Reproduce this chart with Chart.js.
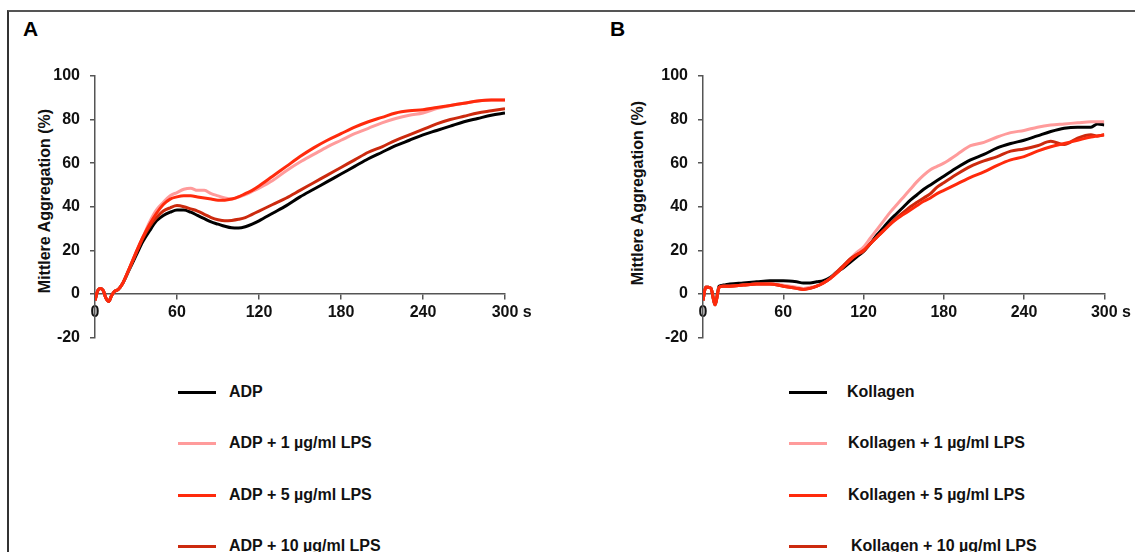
<!DOCTYPE html>
<html><head><meta charset="utf-8">
<script src="https://cdn.jsdelivr.net/npm/chart.js@4.4.0/dist/chart.umd.min.js"></script>
<style>
html,body{margin:0;padding:0;background:#fff;}
body{width:1135px;height:552px;position:relative;overflow:hidden;font-family:"Liberation Sans",Arial,sans-serif;}
#frame{position:absolute;left:7px;top:10px;width:1140px;height:560px;border-top:2px solid #555;border-left:2px solid #333;}
.panel{position:absolute;font-weight:bold;font-size:21px;color:#000;line-height:21px;}
.ytitle{position:absolute;font-weight:bold;font-size:16px;white-space:nowrap;transform:translate(-50%,-50%) rotate(-90deg);line-height:19px;color:#111;}
.legline{position:absolute;width:38px;height:3px;}
.legtext{position:absolute;height:20px;line-height:20px;font-weight:bold;font-size:16px;white-space:nowrap;color:#111;}
canvas{position:absolute;}
</style>
</head>
<body>
<div id="frame"></div>
<div class="panel" style="left:23px;top:18px;">A</div>
<div class="panel" style="left:610px;top:18px;">B</div>
<div class="ytitle" style="left:44px;top:201px;">Mittlere Aggregation (%)</div>
<div class="ytitle" style="left:637px;top:193px;">Mittlere Aggregation (%)</div>
<canvas id="cA" width="560" height="357" style="left:0;top:0;"></canvas>
<canvas id="cB" width="575" height="357" style="left:560px;top:0;"></canvas>
<div id="legA"></div>
<div id="legB"></div>
<script>
// ---- data ----
const timesA = [0,2,4,6,8,10,12,14,17,20,25,30,35,40,45,50,55,60,65,70,75,80,85,90,95,100,105,110,115,120,130,140,150,160,170,180,190,200,210,220,230,240,250,260,270,280,290,300];
const adp    = [-3,1.5,2.5,1.5,-2,-3.5,-1,1,2,4.5,11,17.5,24,29,33.5,36,37.5,38.5,38.5,37.5,36,34.5,33,32,31,30.3,30.2,30.8,32,33.5,37,40.5,44.5,48,51.5,55,58.5,62,65,68,70.5,73,75,77,79,80.5,82,83];
const adp1   = [-3,1.5,2.5,1.5,-2,-3.5,-1,1,2,4.5,11.5,19,26,33,38.5,42,45,46.5,48,48.5,47.5,47.5,46,45,44,43.5,44.5,45.5,47,48.5,52,56.5,60.5,64,67.5,70.5,73.5,76,78.5,80.5,82,83,85,86.5,87.5,88.5,89,89];
const adp5   = [-3,1.5,2.5,1.5,-2,-3.5,-1,1,2,4.5,11.5,19,26,32,37,41,43.5,44.5,45,45,44.5,44,43.5,43,43,43.5,44.5,46,47.5,49.5,54,58.5,63,67,70.5,73.5,76.5,79,81,83,84,84.5,85.5,86.5,87.5,88.5,89,89];
const adp10  = [-3,1.5,2.5,1.5,-2,-3.5,-1,1,2,4.5,11.5,18.5,25.5,31,35,38,39.5,40.5,40,39,38,36.5,35,34,33.5,33.7,34.2,35,36.5,38,41,44,47.5,51,54.5,58,61.5,65,67.5,70.5,73,75.5,78,80,81.5,83,84,85];

const timesB = [0,2,4,6,8,9,10,12,15,20,30,40,50,60,70,75,80,85,90,95,100,105,110,115,120,125,130,135,140,145,150,155,160,165,170,175,180,190,200,210,220,230,240,250,260,270,280,290,295,300];
const kol    = [-3,3,3,2.5,-3,-5,-3,3.5,4,4.5,5,5.5,6,6,5.5,5,5,5.5,6,7.5,10,12,14.5,17,19.5,23,27,30.5,34,37,40,43,45.5,48,50,52,54,58,61.5,64,67,69,70.5,72.5,74.5,76,76.5,76.5,78,77.5];
const kol1   = [-3,3,3,2.5,-3,-5,-3,3,3.5,3.5,4,4.5,4.5,4,3,2.5,3,3.5,5,7,10,13,16,19,21.5,25.5,29.5,33.5,37.5,41,44.5,48,51.5,54.5,57,58.5,60,64,68,69.5,72,74,75,76.5,77.5,78,78.5,79,79,79];
const kol5   = [-3,3,3,2.5,-3,-5,-3,3,3.5,3.5,4,4.5,4.5,3.5,2.5,2,2.5,3.5,5,7,9.5,12.5,15.5,18,20,23,26,29,32,34.5,36.5,38.5,40.5,42.5,44,46,47.5,50.5,53.5,56,59,61.5,63,65.5,67.5,69,70.5,72,72.5,73];
const kol10  = [-3,3,3,2.5,-3,-5,-3,3,3.5,3.5,4,4.5,4.5,3.5,2.5,2,2.5,3.5,5,7,10,13,16,18,19.5,23,26,29,32,35,37.5,40,42,44,46,49,51,55,58.5,61,63,65.5,66.5,68,70,68.5,71.5,73,72.5,73];

const xTicks = [0,60,120,180,240,300];
const yTicks = [-20,0,20,40,60,80,100];
const labelsA = ['ADP','ADP + 1 µg/ml LPS','ADP + 5 µg/ml LPS','ADP + 10 µg/ml LPS'];
const labelsB = ['Kollagen','Kollagen + 1 µg/ml LPS','Kollagen + 5 µg/ml LPS','Kollagen + 10 µg/ml LPS'];
const colors = ['#000000','#ff9b9b','#ff2a0c','#cc2a0e'];
const drawOrder = [3,2,0,1];

// ---- charts ----
Chart.defaults.font.family = '"Liberation Sans", Arial, sans-serif';
const tickFont = {size:16, weight:'bold'};
const axisColor = '#555';

function makeChart(id, times, series, labels, yWidth, pad){
  return new Chart(document.getElementById(id), {
    type:'line',
    data:{datasets: series.map((s,i)=>({
      label: labels[i],
      data: times.map((t,j)=>({x:t, y:s[j]})),
      borderColor: colors[i], borderWidth: 3, pointRadius: 0,
      cubicInterpolationMode:'monotone', fill:false, order: drawOrder[i]
    }))},
    options:{
      responsive:false, animation:false, devicePixelRatio:1,
      layout:{padding:pad},
      plugins:{legend:{display:false}, tooltip:{enabled:false}},
      scales:{
        x:{type:'linear', position:{y:0}, min:0, max:300,
           afterBuildTicks: s=>{ s.ticks = xTicks.map(v=>({value:v})); },
           ticks:{font:tickFont, color:'#111', padding:4, maxRotation:0, autoSkip:false,
                  callback: v => v===300 ? '   300 s' : String(v)},
           grid:{drawOnChartArea:false, color:axisColor, lineWidth:1.5, tickLength:5},
           border:{color:axisColor, width:1.5}},
        y:{type:'linear', min:-20, max:100,
           afterBuildTicks: s=>{ s.ticks = yTicks.map(v=>({value:v})); },
           afterFit: s=>{ s.width = yWidth; },
           ticks:{font:tickFont, color:'#111', padding:10, autoSkip:false},
           grid:{drawOnChartArea:false, color:axisColor, lineWidth:1.5, tickLength:5},
           border:{color:axisColor, width:1.5}}
      }
    }
  });
}
makeChart('cA', timesA, [adp,adp1,adp5,adp10], labelsA, 60, {left:35,right:55,top:76,bottom:10});
makeChart('cB', timesB, [kol,kol1,kol5,kol10], labelsB, 75, {left:68,right:23,top:76,bottom:10});

// ---- legends ----
const legRows = [392,443,495,546];
function makeLegend(id, labels, lineX, textX){
  const el = document.getElementById(id);
  labels.forEach((lab,i)=>{
    const ln = document.createElement('div');
    ln.className='legline';
    ln.style.left = lineX+'px'; ln.style.top = (legRows[i]-1.5)+'px';
    ln.style.background = colors[i];
    el.appendChild(ln);
    const tx = document.createElement('div');
    tx.className='legtext';
    tx.style.left = textX[i]+'px'; tx.style.top = (legRows[i]-10)+'px';
    tx.textContent = lab;
    el.appendChild(tx);
  });
}
makeLegend('legA', labelsA, 178, [229,229,229,229]);
makeLegend('legB', labelsB, 789, [847,848,848,851]);
</script>
</body></html>
